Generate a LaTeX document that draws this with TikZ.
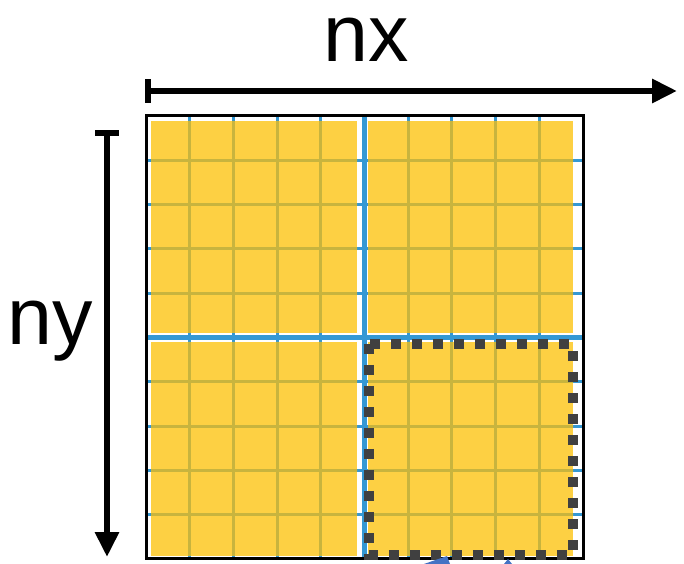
\documentclass[tikz,border=0pt]{standalone}
\usepackage{fontspec}
\setmainfont{Liberation Sans}
\usetikzlibrary{arrows.meta}
\definecolor{tileyellow}{RGB}{253,208,67}
\definecolor{gridblue}{RGB}{52,152,212}
\definecolor{gridolive}{RGB}{200,180,62}
\definecolor{dotgray}{RGB}{64,64,64}
\definecolor{arrowblue}{RGB}{68,114,196}

\begin{document}
\begin{tikzpicture}[x=0.02cm, y=-0.02cm,
    tile/.style={fill=tileyellow},
    axis/.style={line width=0.12cm, {Bar[width=0.48cm]}-{Triangle[width=0.46cm, length=0.5cm]}},
    axislabel/.style={font=\fontsize{46}{50}\selectfont, inner sep=0pt}]
    \useasboundingbox (0,0) rectangle (684,564);

    % full grid
    \foreach \i in {0,...,10} {
        \draw[gridblue, line width=0.06cm] (146+43.7*\i,116) -- (146+43.7*\i,559);
        \draw[gridblue, line width=0.06cm] (146,116+44.3*\i) -- (583,116+44.3*\i);
    }
    \draw[gridblue, line width=0.1cm] (364.5,116) -- (364.5,559);
    \draw[gridblue, line width=0.1cm] (146,337.5) -- (583,337.5);

    % four tiles
    \fill[tile] (151,121) rectangle (357,333);
    \fill[tile] (368,121) rectangle (573,333);
    \fill[tile] (151,342) rectangle (357,556);
    \fill[tile] (368,342) rectangle (573,556);

    % grid seen through the tiles
    \begin{scope}
        \clip (151,121) rectangle (357,333) (368,121) rectangle (573,333)
              (151,342) rectangle (357,556) (368,342) rectangle (573,556);
        \foreach \i in {0,...,10} {
            \draw[gridolive, line width=0.06cm] (146+43.7*\i,116) -- (146+43.7*\i,559);
            \draw[gridolive, line width=0.06cm] (146,116+44.3*\i) -- (583,116+44.3*\i);
        }
    \end{scope}

    \draw[black, line width=0.06cm] (146,116) rectangle (583,559);

    % selected tile
    \draw[dotgray, line width=0.21cm, dash pattern=on 0.2cm off 0.22cm] (369,344) rectangle (573,555);

    % axes
    \coordinate (nxstart) at (145,91);
    \coordinate (nxend) at (677,91);
    \coordinate (nystart) at (107,130);
    \coordinate (nyend) at (107,557);
    \draw[axis] (nxstart) -- (nxend);
    \draw[axis] (nystart) -- (nyend);

    \node[axislabel] (nx) at (366,40) {nx};
    \node[axislabel] (ny) at (50,331) {ny};

    % blue arrow cut by the bottom edge
    \fill[arrowblue] (424,564) -- (447,556) -- (450,564) -- cycle;
    \fill[arrowblue] (504,564) -- (508,559) -- (512,564) -- cycle;
\end{tikzpicture}
\end{document}
